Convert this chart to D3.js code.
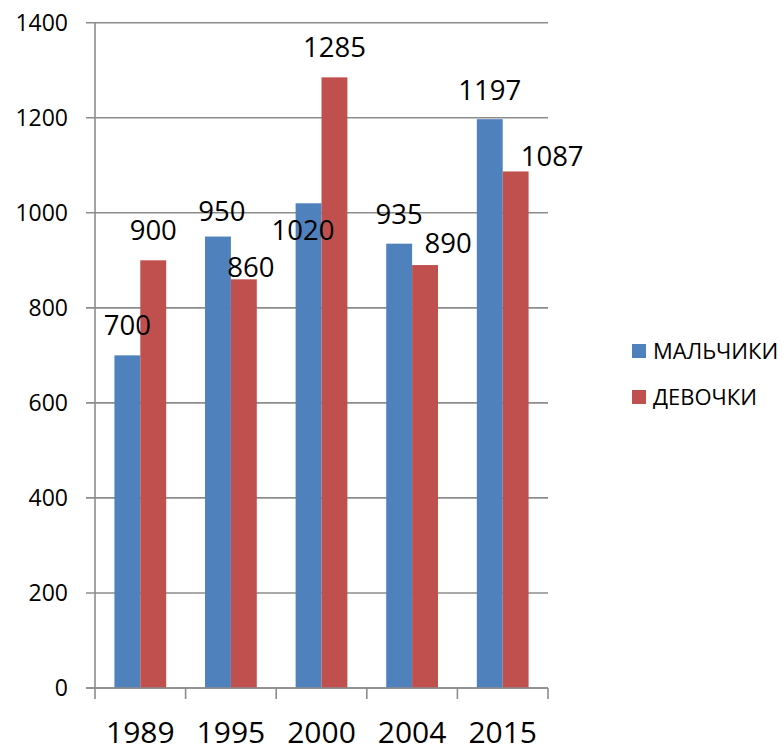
<!DOCTYPE html>
<html>
<head>
<meta charset="utf-8">
<script src="https://cdn.jsdelivr.net/npm/d3@7"></script>
<style>
  html, body { margin: 0; padding: 0; background: #fff; }
  svg { display: block; font-family: "Open Sans", "DejaVu Sans", sans-serif; }
</style>
</head>
<body>
<svg id="chart" width="784" height="751"></svg>
<script>
// Chart data
const years = ["1989", "1995", "2000", "2004", "2015"];
const seriesNames = ["МАЛЬЧИКИ", "ДЕВОЧКИ"];
const boys = [700, 950, 1020, 935, 1197];
const girls = [900, 860, 1285, 890, 1087];
const yTicks = [0, 200, 400, 600, 800, 1000, 1200, 1400];

// Hand-placed value label offsets (px) relative to the default spot above each bar
const boysLabelNudge = [[0, 0], [4, 4], [-5.5, 56.5], [0, 0], [0, 0.5]];
const girlsLabelNudge = [[0, 0], [7, 17.5], [0, 0], [23, 8], [36.5, 15]];

const colors = ["#4F81BD", "#C0504D"];
const gridColor = "#8c8c8c";

const svg = d3.select("#chart");
const margin = { left: 95, top: 22.7, right: 236, bottom: 63 };
const W = 784, H = 751;
const plotW = W - margin.left - margin.right;
const plotH = H - margin.top - margin.bottom;

const g = svg.append("g").attr("transform", `translate(${margin.left},${margin.top})`);

const x = d3.scaleBand().domain(years).range([0, plotW]).paddingInner(0).paddingOuter(0);
const y = d3.scaleLinear().domain([0, 1400]).range([plotH, 0]);

// bar width follows a 150% gap between groups
const groupW = x.bandwidth();
const barW = groupW / 3.5;
const gapHalf = (groupW - 2 * barW) / 2;

// horizontal gridlines with outside tick stubs
g.append("g").selectAll("line").data(yTicks).join("line")
  .attr("x1", -9).attr("x2", plotW)
  .attr("y1", d => y(d)).attr("y2", d => y(d))
  .attr("stroke", gridColor).attr("stroke-width", 1.6);

// y-axis line
g.append("line")
  .attr("x1", 0).attr("x2", 0).attr("y1", 0).attr("y2", plotH)
  .attr("stroke", gridColor).attr("stroke-width", 1.6);

// y tick labels
g.append("g").selectAll("text").data(yTicks).join("text")
  .attr("x", -27).attr("y", d => y(d))
  .attr("dy", "0.36em")
  .attr("text-anchor", "end")
  .attr("font-size", 23)
  .attr("fill", "#000")
  .text(d => d);

// category tick marks on x-axis
const catEdges = years.map(d => x(d)).concat([plotW]);
g.append("g").selectAll("line").data(catEdges).join("line")
  .attr("x1", d => d).attr("x2", d => d)
  .attr("y1", plotH).attr("y2", plotH + 11)
  .attr("stroke", gridColor).attr("stroke-width", 1.6);

// bars
const seriesData = [boys, girls];
seriesData.forEach((vals, si) => {
  g.append("g").selectAll("rect").data(vals).join("rect")
    .attr("x", (d, i) => x(years[i]) + gapHalf + si * barW)
    .attr("width", barW)
    .attr("y", d => y(d))
    .attr("height", d => plotH - y(d))
    .attr("fill", colors[si]);
});

// x-axis baseline drawn over the bars
g.append("line")
  .attr("x1", -9).attr("x2", plotW).attr("y1", plotH).attr("y2", plotH)
  .attr("stroke", gridColor).attr("stroke-width", 1.6);

// value labels
const nudges = [boysLabelNudge, girlsLabelNudge];
seriesData.forEach((vals, si) => {
  g.append("g").selectAll("text").data(vals).join("text")
    .attr("x", (d, i) => x(years[i]) + gapHalf + si * barW + barW / 2 + nudges[si][i][0])
    .attr("y", (d, i) => y(d) - 20 + nudges[si][i][1])
    .attr("text-anchor", "middle")
    .attr("font-size", 27.5)
    .attr("fill", "#000")
    .text(d => d);
});

// x category labels
g.append("g").selectAll("text").data(years).join("text")
  .attr("x", d => x(d) + groupW / 2)
  .attr("y", plotH + 55)
  .attr("text-anchor", "middle")
  .attr("font-size", 30)
  .attr("fill", "#000")
  .text(d => d);

// legend
const legend = svg.append("g").attr("transform", "translate(632,344)");
seriesNames.forEach((name, i) => {
  const row = legend.append("g").attr("transform", `translate(0,${i * 46})`);
  row.append("rect").attr("width", 14).attr("height", 14).attr("fill", colors[i]);
  row.append("text")
    .attr("x", 21).attr("y", 14.5)
    .attr("font-size", 22)
    .attr("fill", "#000")
    .text(name);
});
</script>
</body>
</html>
